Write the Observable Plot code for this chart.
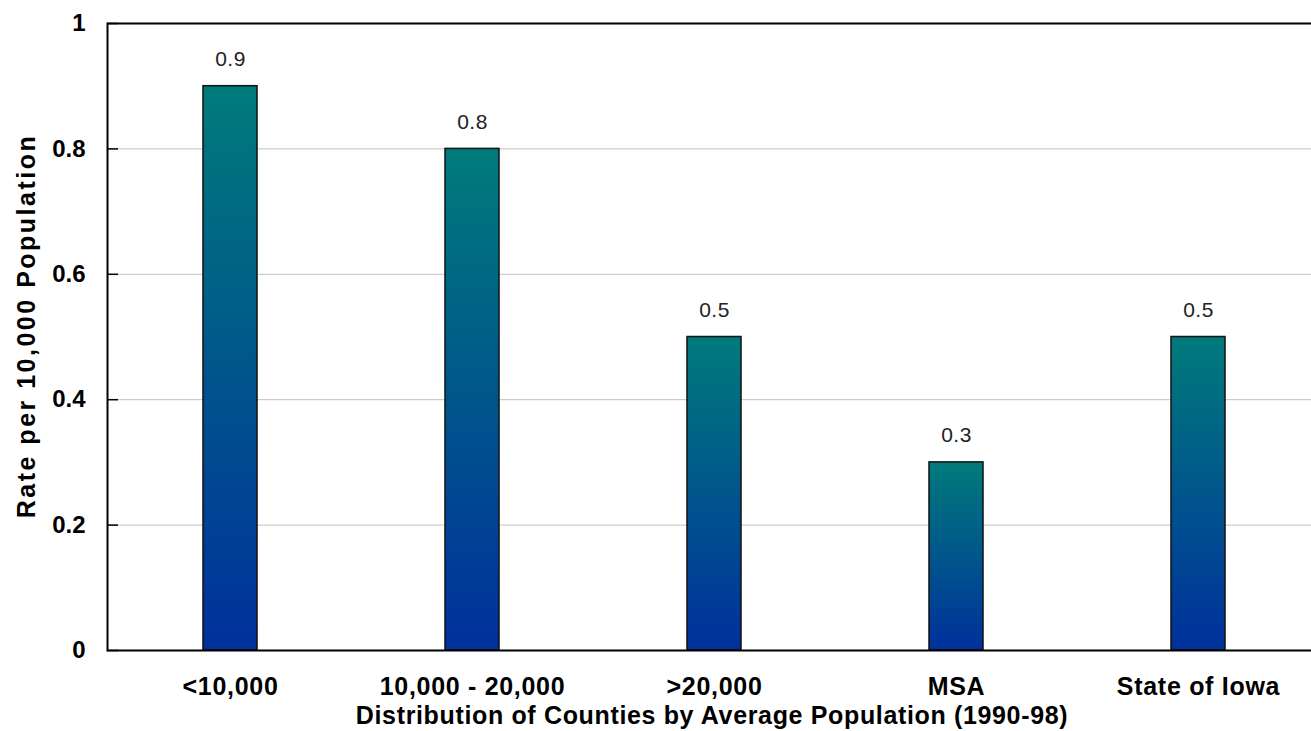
<!DOCTYPE html>
<html>
<head>
<meta charset="utf-8">
<script src="https://cdn.jsdelivr.net/npm/d3@7"></script>
<script src="https://cdn.jsdelivr.net/npm/@observablehq/plot@0.6"></script>
<style>
  html, body { margin: 0; padding: 0; background: #fff; overflow: hidden; }
</style>
</head>
<body>
<div id="chart"></div>
<script>
const categories = ["<10,000", "10,000 - 20,000", ">20,000", "MSA", "State of Iowa"];
const rates = [0.9, 0.8, 0.5, 0.3, 0.5];
const yTicks = [0, 0.2, 0.4, 0.6, 0.8, 1];
const xTitle = "Distribution of Counties by Average Population (1990-98)";
const yTitle = "Rate per 10,000 Population";

const data = categories.map((c, i) => ({category: c, rate: rates[i]}));
const font = "'Liberation Sans', Arial, sans-serif";

const chart = Plot.plot({
  width: 1320,
  height: 731,
  marginLeft: 107,
  marginRight: 0,
  marginTop: 23,
  marginBottom: 81,
  style: {fontFamily: font, maxWidth: "none", background: "#fff", overflow: "visible"},
  x: {domain: categories, padding: 0, label: null},
  y: {domain: [0, 1], label: null},
  marks: [
    Plot.gridY(yTicks, {stroke: "#c0c0c0", strokeOpacity: 1, strokeWidth: 1}),
    Plot.axisY(yTicks, {tickSize: -11, text: null, stroke: "#000", strokeWidth: 1.5}),
    Plot.axisY(yTicks, {tickSize: 0, tickPadding: 22, tickFormat: d => String(d), fontSize: 24, fontWeight: "bold", fill: "#000", label: null}),
    Plot.axisX({tickSize: 0, tickPadding: 27, fontSize: 25, fontWeight: "bold", fill: "#000", label: null}),
    Plot.barY(data, {x: "category", y: "rate", fill: "url(#barGrad)", stroke: "#111", strokeWidth: 1.5, insetLeft: 94, insetRight: 94}),
    Plot.text(data, {x: "category", y: "rate", text: d => String(d.rate), dy: -27, fontSize: 21, fill: "#222"}),
    Plot.frame({stroke: "#000", strokeWidth: 2}),
    Plot.text([xTitle], {frameAnchor: "bottom", dy: 73, dx: -2, fontSize: 25, fontWeight: "bold", fill: "#000"}),
    Plot.text([yTitle], {frameAnchor: "left", textAnchor: "middle", rotate: -90, dx: -81, dy: -11, fontSize: 25, fontWeight: "bold", fill: "#000"})
  ]
});

const ns = "http://www.w3.org/2000/svg";
const defs = document.createElementNS(ns, "defs");
const grad = document.createElementNS(ns, "linearGradient");
grad.setAttribute("id", "barGrad");
grad.setAttribute("x1", "0"); grad.setAttribute("y1", "0");
grad.setAttribute("x2", "0"); grad.setAttribute("y2", "1");
[["0%", "#007B7B"], ["100%", "#00309C"]].forEach(([o, c]) => {
  const s = document.createElementNS(ns, "stop");
  s.setAttribute("offset", o);
  s.setAttribute("stop-color", c);
  grad.appendChild(s);
});
defs.appendChild(grad);
chart.insertBefore(defs, chart.firstChild);

chart.querySelectorAll("text").forEach(t => {
  const s = t.textContent;
  if (s === xTitle) t.style.letterSpacing = "0.65px";
  else if (s === yTitle) t.style.letterSpacing = "2.5px";
  else if (categories.includes(s)) t.style.letterSpacing = "0.7px";
});
chart.querySelectorAll('g[font-size="21"] text').forEach(t => t.style.letterSpacing = "0.5px");
document.getElementById("chart").appendChild(chart);
</script>
</body>
</html>
